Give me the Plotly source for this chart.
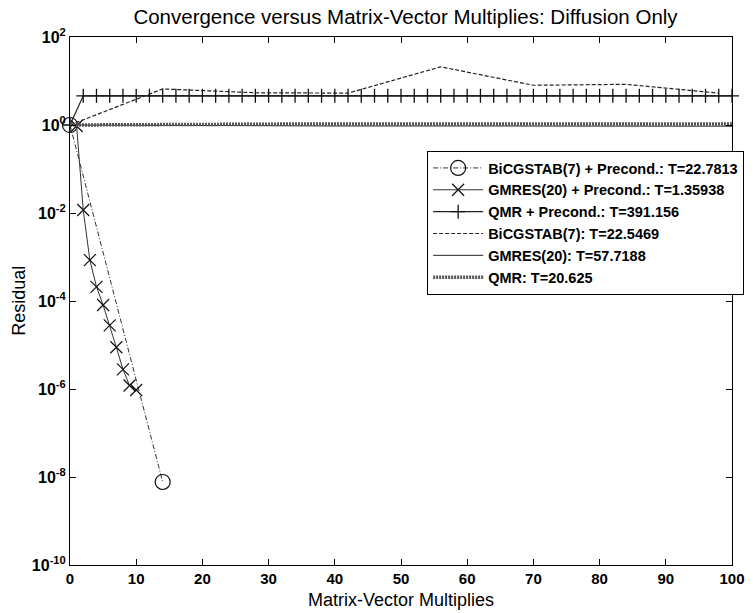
import plotly.graph_objects as go

# ---------------- data ----------------
bicg_p_x = [0, 14]
bicg_p_y = [1.0, 7.7e-9]

gmres_p_x = [1, 2, 3, 4, 5, 6, 7, 8, 9, 10]
gmres_p_y = [0.95, 1.17e-2, 8.5e-4, 2.1e-4, 8.1e-5, 2.8e-5, 8.9e-6, 2.8e-6, 1.2e-6, 9.5e-7]

qmr_p_x = list(range(0, 101, 2))
qmr_p_y = [1.0,
           4.6, 4.6, 4.6, 4.6, 4.6, 4.6, 4.6, 4.6, 4.6, 4.6,
           4.6, 4.6, 4.6, 4.6, 4.6, 4.6, 4.6, 4.6, 4.6, 4.6,
           4.6, 4.6, 4.6, 4.6, 4.6, 4.6, 4.6, 4.6, 4.6, 4.6,
           4.6, 4.6, 4.6, 4.6, 4.6, 4.6, 4.6, 4.6, 4.6, 4.6,
           4.6, 4.6, 4.6, 4.6, 4.6, 4.6, 4.6, 4.6, 4.6, 4.6]

bicg_x = [0, 14, 28, 42, 56, 70, 84, 98]
bicg_y = [1.0, 6.6, 5.4, 5.3, 21.0, 8.0, 8.4, 5.3]

gmres_x = [0, 20, 40, 60, 80, 100]
gmres_y = [1.0, 0.96, 0.95, 0.95, 0.94, 0.94]

qmr_x = [0, 20, 40, 60, 80, 100]
qmr_y = [1.0, 1.05, 1.06, 1.06, 1.05, 1.05]

names = ["BiCGSTAB(7) + Precond.: T=22.7813",
         "GMRES(20) + Precond.: T=1.35938",
         "QMR + Precond.: T=391.156",
         "BiCGSTAB(7): T=22.5469",
         "GMRES(20): T=57.7188",
         "QMR: T=20.625"]

title_text = "Convergence versus Matrix-Vector Multiplies: Diffusion Only"
x_title = "Matrix-Vector Multiplies"
y_title = "Residual"
x_ticks = [0, 10, 20, 30, 40, 50, 60, 70, 80, 90, 100]
y_tick_exps = [2, 0, -2, -4, -6, -8, -10]

# ---------------- figure ----------------
FONT = "Liberation Sans, Arial, sans-serif"
W, H = 756, 613
fig = go.Figure()

fig.add_trace(go.Scatter(
    x=bicg_p_x, y=bicg_p_y, name=names[0], mode="lines+markers",
    line=dict(color="#333333", width=1, dash="5px,2px,1px,2px"),
    marker=dict(symbol="circle-open", size=15, color="#111111", line=dict(width=1.2)),
    cliponaxis=False))

fig.add_trace(go.Scatter(
    x=gmres_p_x, y=gmres_p_y, name=names[1], mode="lines+markers",
    line=dict(color="#333333", width=1),
    marker=dict(symbol="x-thin-open", size=12, color="#111111", line=dict(width=1.2)),
    cliponaxis=False))

fig.add_trace(go.Scatter(
    x=qmr_p_x, y=qmr_p_y, name=names[2], mode="lines+markers",
    line=dict(color="#222222", width=1.2),
    marker=dict(symbol="cross-thin-open", size=10, color="#111111", line=dict(width=1.3)),
    cliponaxis=False))

fig.add_trace(go.Scatter(
    x=bicg_x, y=bicg_y, name=names[3], mode="lines",
    line=dict(color="#222222", width=1.2, dash="4px,2px")))

fig.add_trace(go.Scatter(
    x=gmres_x, y=gmres_y, name=names[4], mode="lines",
    line=dict(color="#222222", width=1)))

fig.add_trace(go.Scatter(
    x=qmr_x, y=qmr_y, name=names[5], mode="lines",
    line=dict(color="#555555", width=3.5, dash="2px,1px")))

fig.update_layout(
    width=W, height=H,
    margin=dict(l=70, r=15, t=37, b=48),
    paper_bgcolor="white", plot_bgcolor="white",
    font=dict(family=FONT, color="black"),
    title=dict(text=title_text, x=(70 + 741) / 2 / W, xanchor="center",
               y=1 - 17 / H, yanchor="middle",
               font=dict(size=20.5, family=FONT, color="black")),
    showlegend=True,
    legend=dict(x=(432 - 70) / 671, y=1 - (151 - 37) / 528, xanchor="left", yanchor="top",
                bgcolor="white", bordercolor="black", borderwidth=1,
                font=dict(size=14.5, family=FONT, color="black", weight="bold"),
                itemwidth=50, tracegroupgap=0),
    annotations=[
        dict(text=x_title, xref="paper", yref="paper", x=0.5, y=-(600 - 565) / 528,
             xanchor="center", yanchor="middle", showarrow=False,
             font=dict(size=18, family=FONT, color="black")),
        dict(text=y_title, xref="paper", yref="paper", x=-(70 - 18) / 671, y=0.5,
             xanchor="center", yanchor="middle", showarrow=False, textangle=-90,
             font=dict(size=18, family=FONT, color="black")),
    ],
)

fig.update_xaxes(
    range=[0, 100], tickmode="array", tickvals=x_ticks,
    ticktext=[str(v) for v in x_ticks],
    ticks="inside", ticklen=6, tickcolor="black",
    showline=True, linecolor="black", linewidth=1, mirror="ticks",
    showgrid=False, zeroline=False, automargin=False,
    tickfont=dict(size=15, family=FONT, weight="bold"),
)

fig.update_yaxes(
    type="log", range=[-10, 2], tickmode="array",
    tickvals=[10.0 ** e for e in y_tick_exps],
    ticktext=["10<sup>%d</sup>" % e for e in y_tick_exps],
    ticks="inside", ticklen=6, tickcolor="black",
    showline=True, linecolor="black", linewidth=1, mirror="ticks",
    showgrid=False, zeroline=False, automargin=False,
    tickfont=dict(size=16, family=FONT, weight="bold"),
)

fig.write_html("out.html")
